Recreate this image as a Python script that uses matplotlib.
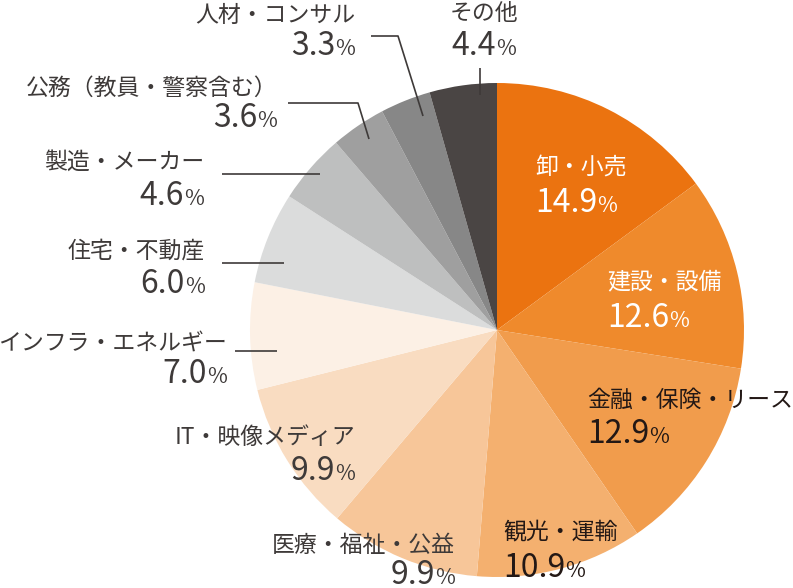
import matplotlib
matplotlib.use("Agg")
import matplotlib.pyplot as plt

plt.rcParams['font.family'] = ['Noto Sans CJK JP', 'DejaVu Sans']

# 業種別の割合 (12時から時計回り)
labels = ["卸・小売", "建設・設備", "金融・保険・リース", "観光・運輸",
          "医療・福祉・公益", "IT・映像メディア", "インフラ・エネルギー",
          "住宅・不動産", "製造・メーカー", "公務（教員・警察含む）",
          "人材・コンサル", "その他"]
shares = [14.9, 12.6, 12.9, 10.9, 9.9, 9.9, 7.0, 6.0, 4.6, 3.6, 3.3, 4.4]
colors = ["#EB7310", "#EF8A2C", "#F19C4C", "#F4B06F", "#F7C699", "#F9DCC1",
          "#FCF0E5", "#DBDCDC", "#BEBFBF", "#9F9F9F", "#878787", "#4A4544"]

# label layout: (x, name center y, pct baseline y, ha, text color)
layout = [
    (535, 167, 212, "left", "white"),
    (607, 282, 327, "left", "white"),
    (587, 400, 443, "left", "#231815"),
    (503, 532, 577, "left", "#231815"),
    (455, 545, 584, "right", "#3e3a39"),
    (355, 438, 480, "right", "#3e3a39"),
    (227, 343, 383, "right", "#3e3a39"),
    (205, 251, 293, "right", "#3e3a39"),
    (204, 162, 205, "right", "#3e3a39"),
    (277, 88, 127, "right", "#3e3a39"),
    (355, 15, 55, "right", "#3e3a39"),
    (484, 13, 55, "center", "#3e3a39"),
]

# leader lines (pixel coords, y down)
leaders = [
    [(222, 174), (320, 174)],
    [(222, 263), (284, 263)],
    [(235, 351), (277, 351)],
    [(288, 103), (358, 103), (369, 139)],
    [(371, 36), (398, 36), (423, 116)],
    [(480, 68), (480, 95)],
]

W, H = 793, 588
fig = plt.figure(figsize=(W / 100, H / 100), dpi=100)
ax = fig.add_axes([0, 0, 1, 1])

# y axis is inverted, so counterclock=True draws clockwise on screen
ax.pie(shares, colors=colors, startangle=270, counterclock=True,
       center=(497, 330), radius=247, frame=True,
       wedgeprops=dict(linewidth=0))
ax.set_xlim(0, W)
ax.set_ylim(H, 0)
ax.set_aspect('equal')
ax.axis('off')

for pts in leaders:
    xs = [p[0] for p in pts]
    ys = [p[1] for p in pts]
    ax.plot(xs, ys, color="#3e3a39", lw=1.2, solid_capstyle='butt')

renderer = fig.canvas.get_renderer()


def pct_label(x, y, value, ha, color):
    t1 = ax.text(0, y, f"{value:.1f}", fontsize=23, color=color, va='baseline')
    t2 = ax.text(0, y, "%", fontsize=15.5, color=color, va='baseline')
    w1 = t1.get_window_extent(renderer).width
    w2 = t2.get_window_extent(renderer).width
    total = w1 + w2
    if ha == "left":
        left = x
    elif ha == "right":
        left = x - total
    else:
        left = x - total / 2
    t1.set_x(left)
    t2.set_x(left + w1)


for name, val, (x, ny, py, ha, col) in zip(labels, shares, layout):
    ax.text(x, ny, name, fontsize=16.5, color=col, ha=ha, va='center')
    pct_label(x, py, val, ha, col)

fig.savefig("out.png", dpi=100)
